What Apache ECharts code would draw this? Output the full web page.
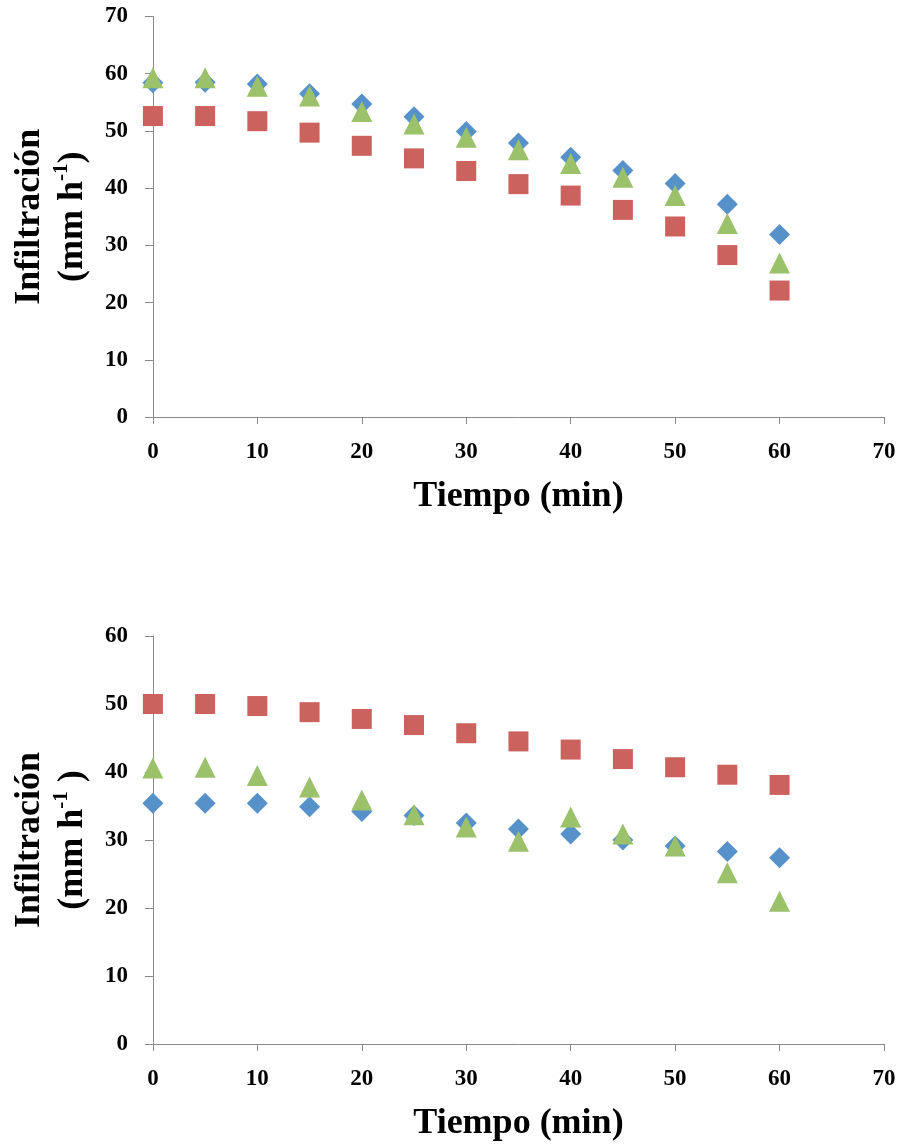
<!DOCTYPE html>
<html>
<head>
<meta charset="utf-8">
<script src="https://cdn.jsdelivr.net/npm/echarts@6/dist/echarts.min.js"></script>
<style>
  html, body { margin: 0; padding: 0; background: #ffffff; }
  #chart { width: 901px; height: 1146px; }
</style>
</head>
<body>
<div id="chart"></div>
<script>
// ---- Data ----
const time = [0, 5, 10, 15, 20, 25, 30, 35, 40, 45, 50, 55, 60];

// Top panel
const topBlue  = [58.4, 58.5, 58.2, 56.5, 54.7, 52.5, 49.9, 47.9, 45.4, 43.1, 40.8, 37.2, 31.9];
const topRed   = [52.6, 52.6, 51.7, 49.7, 47.4, 45.2, 43.0, 40.7, 38.7, 36.2, 33.3, 28.3, 22.1];
const topGreen = [59.3, 59.3, 57.8, 56.1, 53.4, 51.2, 48.9, 46.7, 44.3, 41.9, 38.7, 33.8, 26.9];

// Bottom panel
const botBlue  = [35.4, 35.4, 35.4, 34.9, 34.2, 33.6, 32.5, 31.6, 30.9, 30.0, 29.1, 28.3, 27.4];
const botRed   = [50.0, 50.0, 49.7, 48.8, 47.8, 46.9, 45.7, 44.5, 43.3, 41.9, 40.7, 39.6, 38.1];
const botGreen = [40.6, 40.7, 39.5, 37.8, 35.9, 33.7, 31.9, 29.8, 33.4, 30.9, 29.1, 25.2, 21.0];

// Axis settings
const xMax = 70, xStep = 10;
const topYMax = 70, botYMax = 60, yStep = 10;
const xTitle = 'Tiempo (min)';
const yTitleTop = '{t|Infiltración}\n{t|(mm h}{s|-1}{t|)}';
const yTitleBot = '{t|Infiltración}\n{t|(mm h}{s|-1}{t| )}';

// ---- Styling ----
const FONT = '"Liberation Serif", "Times New Roman", serif';
const AXIS_COLOR = '#8a8a8a';
const BLUE = '#5692C9', RED = '#CB625D', GREEN = '#9BC16A';

function pair(xs, ys) { return xs.map((x, i) => [x, ys[i]]); }

function xAxisCfg(gridIndex) {
  return {
    type: 'value', gridIndex, min: 0, max: xMax, interval: xStep,
    splitLine: { show: false },
    axisLine: { show: true, lineStyle: { color: AXIS_COLOR, width: 1 } },
    axisTick: { show: true, inside: false, length: 7, lineStyle: { color: AXIS_COLOR } },
    axisLabel: { margin: 24, color: '#000', fontFamily: FONT, fontWeight: 'bold', fontSize: 23 },
    name: xTitle, nameLocation: 'middle', nameGap: 62,
    nameTextStyle: { color: '#000', fontFamily: FONT, fontWeight: 'bold', fontSize: 36 }
  };
}
function yAxisCfg(gridIndex, max, title) {
  return {
    type: 'value', gridIndex, min: 0, max, interval: yStep,
    splitLine: { show: false },
    axisLine: { show: true, lineStyle: { color: AXIS_COLOR, width: 1 } },
    axisTick: { show: true, inside: false, length: 8, lineStyle: { color: AXIS_COLOR } },
    axisLabel: { margin: 25, color: '#000', fontFamily: FONT, fontWeight: 'bold', fontSize: 23 },
    name: title, nameLocation: 'middle', nameRotate: 90, nameGap: 58,
    nameTextStyle: {
      color: '#000', fontFamily: FONT, fontWeight: 'bold', fontSize: 36, lineHeight: 43,
      rich: {
        t: { color: '#000', fontFamily: FONT, fontWeight: 'bold', fontSize: 36, lineHeight: 43 },
        s: { color: '#000', fontFamily: FONT, fontWeight: 'bold', fontSize: 21, lineHeight: 22, verticalAlign: 'top' }
      }
    }
  };
}
function scatter(xi, yi, data, symbol, color, size) {
  return {
    type: 'scatter', xAxisIndex: xi, yAxisIndex: yi, data, symbol,
    symbolSize: size, itemStyle: { color, opacity: 1 }, animation: false,
    emphasis: { disabled: true }
  };
}

const chart = echarts.init(document.getElementById('chart'), null, { renderer: 'canvas' });
chart.setOption({
  backgroundColor: '#ffffff',
  animation: false,
  grid: [
    { left: 152, top: 16.5, width: 732, height: 400.5, containLabel: false },
    { left: 152, top: 636, width: 732, height: 408, containLabel: false }
  ],
  xAxis: [xAxisCfg(0), xAxisCfg(1)],
  yAxis: [yAxisCfg(0, topYMax, yTitleTop), yAxisCfg(1, botYMax, yTitleBot)],
  series: [
    scatter(0, 0, pair(time, topBlue), 'diamond', BLUE, 21),
    scatter(0, 0, pair(time, topRed), 'rect', RED, 20),
    scatter(0, 0, pair(time, topGreen), 'triangle', GREEN, 21),
    scatter(1, 1, pair(time, botBlue), 'diamond', BLUE, 21),
    scatter(1, 1, pair(time, botRed), 'rect', RED, 20),
    scatter(1, 1, pair(time, botGreen), 'triangle', GREEN, 21)
  ]
});
</script>
</body>
</html>
